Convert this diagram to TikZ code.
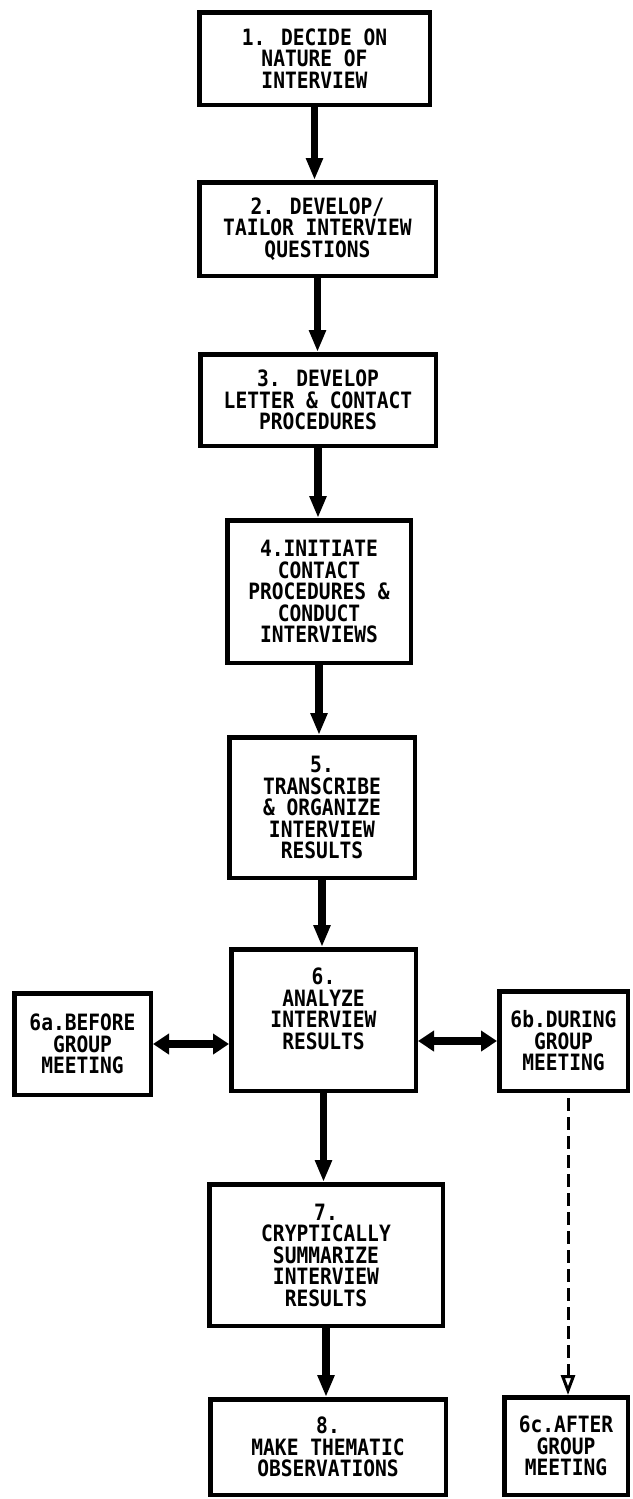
\documentclass[tikz,border=0pt]{standalone}
\usepackage{fontspec}
\newfontfamily\chartfamily{DejaVu Sans Mono}[FakeStretch=0.87]
\usetikzlibrary{arrows.meta,calc}

\begin{document}
\begin{tikzpicture}[x=1pt,y=-1pt,
  stepbox/.style={draw, line width=4.5pt, align=center, inner sep=0pt,
    font={\chartfamily\bfseries\fontsize{22.5}{21.5}\selectfont}},
  steptext/.style={align=center, inner sep=0pt,
    font={\chartfamily\bfseries\fontsize{22.5}{21.5}\selectfont}},
  flow/.style={line width=7.5pt, -{Triangle[length=22pt,width=16pt]}},
  twoway/.style={line width=7.5pt,
    {Triangle[length=16pt,width=20pt]}-{Triangle[length=16pt,width=20pt]}},
  dashflow/.style={line width=3pt, dash pattern=on 13pt off 6pt,
    -{Triangle[open,length=20pt,width=14pt,line width=3pt]}}]
\useasboundingbox (0,0) rectangle (632,1499);

% main column
\node[stepbox, minimum width=230.5pt, minimum height=92.5pt] (s1) at (314.5,58.5)
  {1. DECIDE ON\\NATURE OF\\INTERVIEW};
\node[stepbox, minimum width=236.5pt, minimum height=93.5pt] (s2) at (317.5,229)
  {2. DEVELOP/\\TAILOR INTERVIEW\\QUESTIONS};
\node[stepbox, minimum width=235.5pt, minimum height=91.5pt] (s3) at (318,400)
  {3. DEVELOP\\LETTER \& CONTACT\\PROCEDURES};
\node[stepbox, minimum width=183.5pt, minimum height=142.5pt] (s4) at (319,591.5)
  {4.INITIATE\\CONTACT\\PROCEDURES \&\\CONDUCT\\INTERVIEWS};
\node[stepbox, minimum width=185.5pt, minimum height=140.5pt] (s5) at (322,807.5)
  {5.\\TRANSCRIBE\\\& ORGANIZE\\INTERVIEW\\RESULTS};
\node[stepbox, minimum width=184.5pt, minimum height=141.5pt] (s6) at (323.5,1020) {};
\node[steptext] (s6t) at (323.5,1009) {6.\\ANALYZE\\INTERVIEW\\RESULTS};
\node[stepbox, minimum width=233.5pt, minimum height=141.5pt] (s7) at (326,1255)
  {7.\\CRYPTICALLY\\SUMMARIZE\\INTERVIEW\\RESULTS};
\node[stepbox, minimum width=235.5pt, minimum height=95.5pt] (s8) at (328,1447)
  {8.\\MAKE THEMATIC\\OBSERVATIONS};

% side boxes of step 6
\node[stepbox, minimum width=136.5pt, minimum height=101.5pt] (s6a) at (82.5,1044)
  {6a.BEFORE\\GROUP\\MEETING};
\node[stepbox, minimum width=128.5pt, minimum height=99.5pt] (s6b) at (563.5,1041)
  {6b.DURING\\GROUP\\MEETING};
\node[stepbox, minimum width=123.5pt, minimum height=97.5pt] (s6c) at (566,1446)
  {6c.AFTER\\GROUP\\MEETING};

% connectors
\draw[flow] (s1.south) -- (s1.south |- s2.north);
\draw[flow] (s2.south) -- (s2.south |- s3.north);
\draw[flow] (s3.south) -- (s3.south |- s4.north);
\draw[flow] (s4.south) -- (s4.south |- s5.north);
\draw[flow] (s5.south) -- (s5.south |- s6.north);
\draw[flow] (s6.south) -- (s6.south |- s7.north);
\draw[flow] (s7.south) -- (s7.south |- s8.north);
\draw[twoway] (s6a.east) -- (s6a.east -| s6.west);
\draw[twoway] (s6b.west -| s6.east) -- (s6b.west);
\coordinate (d0) at ($(s6b.south)+(4.5,5)$);
\draw[dashflow] (d0) -- (d0 |- s6c.north);
\end{tikzpicture}
\end{document}
